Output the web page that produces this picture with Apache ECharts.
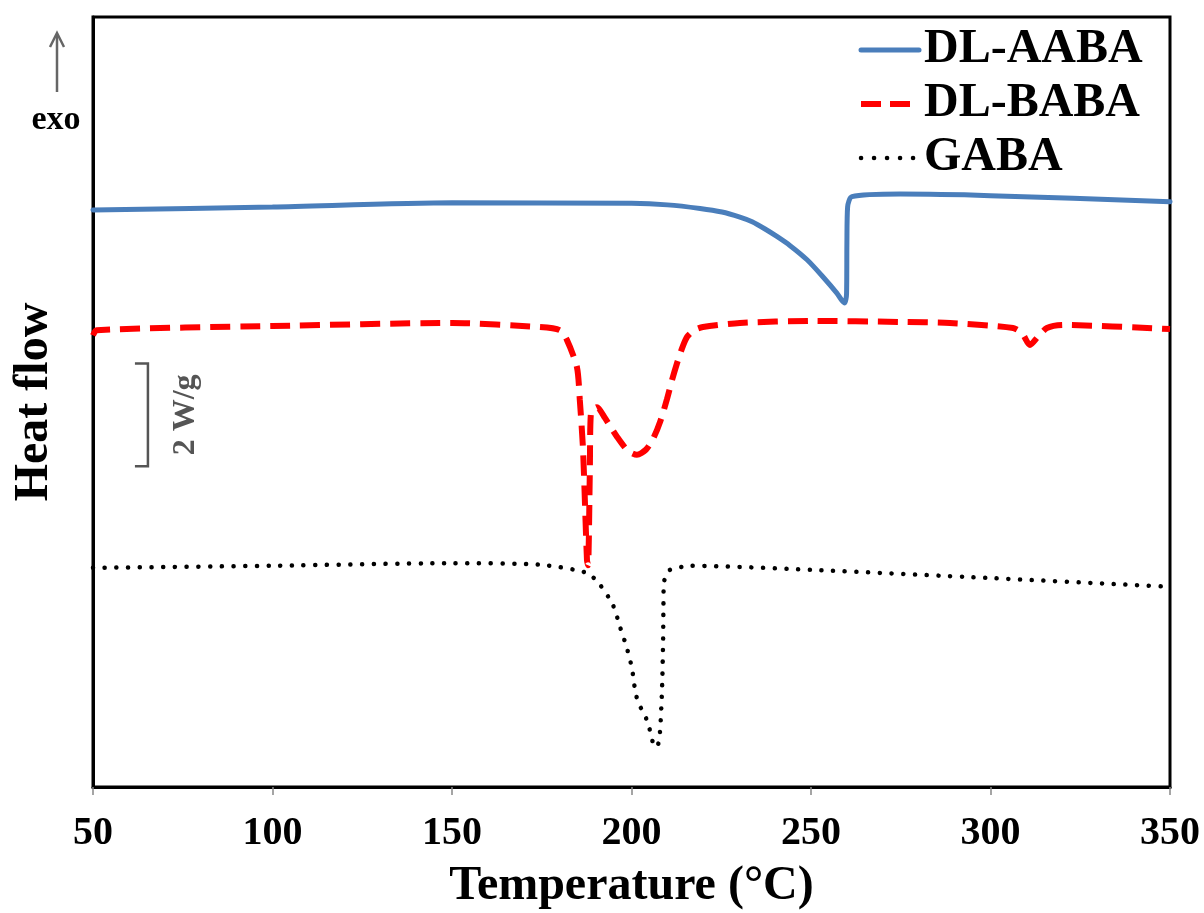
<!DOCTYPE html>
<html>
<head>
<meta charset="utf-8">
<title>DSC thermograms</title>
<script src="https://cdn.jsdelivr.net/npm/echarts@6/dist/echarts.min.js"></script>
<style>
  html, body { margin: 0; padding: 0; background: #fff; }
  #chart { width: 1204px; height: 913px; }
</style>
</head>
<body>
<div id="chart"></div>
<script>
// DSC heat-flow curves, [temperature °C, heat flow W/g (curves offset vertically)]
const seriesNames = ['DL-AABA', 'DL-BABA', 'GABA'];

const aabaData = [
  [50, 11.24], [100, 11.30], [150, 11.38], [200, 11.37], [210, 11.34],
  [219.1, 11.27], [225.2, 11.20], [230.2, 11.10], [233.6, 11.01],
  [237.2, 10.87], [240.6, 10.72], [244.1, 10.55], [248.9, 10.27],
  [253.3, 9.94], [257.2, 9.62], [258.6, 9.48], [259.4, 9.43],
  [259.9, 9.6], [260.0, 10.6], [260.2, 11.30], [261.4, 11.50],
  [274.8, 11.55], [300, 11.52], [350, 11.40]
];

const babaData = [
  [50, 8.80], [51, 8.90], [100, 8.98], [150, 9.04], [174.5, 8.96], [180, 8.90],
  [182, 8.71], [184.8, 8.18], [185.6, 7.54], [186.5, 6.57], [187.6, 4.42],
  [187.9, 4.32], [188.4, 6.18], [188.7, 7.29], [190.4, 7.40], [192.6, 7.19],
  [196, 6.82], [199, 6.55], [201.5, 6.47], [204, 6.57], [206, 6.78],
  [208, 7.12], [209.9, 7.56], [211.3, 7.93], [212.7, 8.26], [214.1, 8.55],
  [215.5, 8.77], [217.5, 8.90], [219.9, 8.96], [230.2, 9.04],
  [250, 9.08], [274.8, 9.06], [288.7, 9.04], [306.3, 8.94], [308.8, 8.84],
  [311, 8.61], [313.2, 8.77], [315.7, 8.94], [320.2, 9.00], [350, 8.92]
];

const gabaData = [
  [50, 4.27], [100, 4.31], [150, 4.36], [174.5, 4.33], [187.6, 4.17],
  [191.2, 3.94], [194.8, 3.55], [196.8, 3.12], [198.7, 2.71], [200.1, 2.32],
  [201, 1.89], [201.8, 1.66], [203.2, 1.46], [204.6, 1.25], [206, 0.86],
  [207.1, 0.78], [207.9, 1.05], [208.5, 1.89], [208.8, 2.86], [208.9, 3.51],
  [209, 3.97], [209.9, 4.17], [210.7, 4.23], [216.3, 4.31], [250, 4.23],
  [300, 4.07], [350, 3.90]
];

// x-axis range and tick step
const tempRange = [50, 350];
const tempStep = 50;
// heat-flow range of the plot and the 2 W/g scale bar (from, to, at temperature)
const heatRange = [0, 15];
const scaleBar = [6.25, 8.25, 65.3];

const serif = '"Liberation Serif", "Times New Roman", serif';
const chart = echarts.init(document.getElementById('chart'), null, { renderer: 'canvas' });

// line looks of each curve (legend samples use slightly wider dot spacing)
const styles = [
  { color: '#4A7EBB', width: 5, type: 'solid', legendType: 'solid', cap: 'round' },
  { color: '#FF0000', width: 6, type: [20, 10], legendType: [20, 9], cap: 'butt' },
  { color: '#000000', width: 4.5, type: [0.1, 11.6], legendType: [0.1, 12.9], cap: 'round' }
];
const curves = [aabaData, babaData, gabaData];

const option = {
  backgroundColor: '#ffffff',
  animation: false,
  grid: {
    left: 93, right: 34, top: 17, bottom: 126,
    outerBoundsMode: 'none',
    show: true, borderColor: '#000', borderWidth: 3, backgroundColor: 'transparent'
  },
  legend: {
    orient: 'vertical',
    left: 853, top: 21,
    itemWidth: 58, itemHeight: 14, itemGap: 6,
    itemStyle: { opacity: 0 },
    textStyle: { fontFamily: serif, fontWeight: 'bold', fontSize: 48, color: '#000' },
    data: seriesNames.map((n, i) => ({
      name: n,
      lineStyle: { width: styles[i].width, type: styles[i].legendType, cap: styles[i].cap, color: styles[i].color }
    }))
  },
  xAxis: {
    type: 'value',
    min: tempRange[0], max: tempRange[1], interval: tempStep,
    name: 'Temperature (°C)',
    nameLocation: 'middle', nameGap: 76,
    nameTextStyle: { fontFamily: serif, fontWeight: 'bold', fontSize: 48, color: '#000' },
    axisLine: { show: true, lineStyle: { color: '#000', width: 3 } },
    axisTick: { show: true, inside: false, length: 8, lineStyle: { color: '#888', width: 1.5 } },
    axisLabel: { fontFamily: serif, fontWeight: 'bold', fontSize: 40, color: '#000', margin: 27 },
    splitLine: { show: false }
  },
  yAxis: {
    type: 'value',
    min: heatRange[0], max: heatRange[1],
    name: 'Heat flow',
    nameLocation: 'middle', nameGap: 34, nameRotate: 90,
    nameTextStyle: { fontFamily: serif, fontWeight: 'bold', fontSize: 48, color: '#000' },
    axisLine: { show: true, lineStyle: { color: '#000', width: 3 } },
    axisTick: { show: false },
    axisLabel: { show: false },
    splitLine: { show: false }
  },
  series: seriesNames.map((n, i) => ({
    name: n, type: 'line', data: curves[i],
    symbol: 'none', smooth: 0.25,
    color: styles[i].color,
    lineStyle: { color: styles[i].color, width: styles[i].width, type: styles[i].type, cap: styles[i].cap },
    z: 3 - i
  }))
};

chart.setOption(option);

// scale bar and exo arrow annotations
const barTop = chart.convertToPixel({ gridIndex: 0 }, [scaleBar[2], scaleBar[1]]);
const barBot = chart.convertToPixel({ gridIndex: 0 }, [scaleBar[2], scaleBar[0]]);
const barX = barTop[0];
const grey = '#555';

chart.setOption({
  graphic: [
    {
      type: 'polyline',
      shape: { points: [[barX - 13, barTop[1]], [barX, barTop[1]], [barX, barBot[1]], [barX - 13, barBot[1]]] },
      style: { stroke: grey, lineWidth: 2.5, fill: null }
    },
    {
      type: 'text',
      x: barX + 38, y: (barTop[1] + barBot[1]) / 2,
      rotation: Math.PI / 2,
      style: {
        text: '2 W/g', fill: grey, font: 'bold 32px ' + serif,
        align: 'center', verticalAlign: 'middle'
      }
    },
    {
      type: 'line',
      shape: { x1: 57, y1: 92, x2: 57, y2: 34 },
      style: { stroke: '#666', lineWidth: 2.5 }
    },
    {
      type: 'polyline',
      shape: { points: [[50, 47], [57, 33], [64, 47]] },
      style: { stroke: '#666', lineWidth: 2.5, fill: null }
    },
    {
      type: 'text',
      x: 56, y: 120,
      style: {
        text: 'exo', fill: '#000', font: 'bold 34px ' + serif,
        align: 'center', verticalAlign: 'middle'
      }
    }
  ]
});
</script>
</body>
</html>
